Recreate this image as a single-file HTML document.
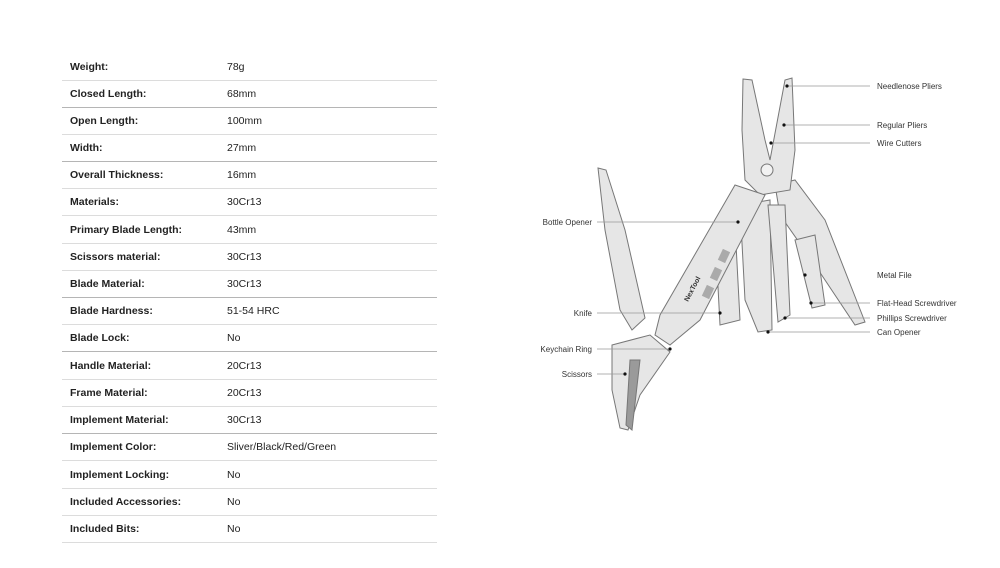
<!DOCTYPE html>
<html><head><meta charset="utf-8"><style>
body{margin:0;width:1000px;height:568px;background:#fff;position:relative;overflow:hidden;font-family:"Liberation Sans",Arial,sans-serif}
.r{position:absolute;left:62px;width:375px;height:27px;border-bottom:1px solid #dcdcdc;font-size:10.5px;color:#222}
.r b{position:absolute;left:8px;top:8px;font-weight:bold}
.r span{position:absolute;left:165px;top:8px}
.d{border-bottom-color:#b5b5b5}
svg{position:absolute;left:0;top:0}
svg text{font-family:"Liberation Sans",Arial,sans-serif;font-size:8px;fill:#333}
</style></head><body>
<div class="r" style="top:53px"><b>Weight:</b><span>78g</span></div>
<div class="r d" style="top:80px"><b>Closed Length:</b><span>68mm</span></div>
<div class="r" style="top:107px"><b>Open Length:</b><span>100mm</span></div>
<div class="r d" style="top:134px"><b>Width:</b><span>27mm</span></div>
<div class="r" style="top:161px"><b>Overall Thickness:</b><span>16mm</span></div>
<div class="r" style="top:188px"><b>Materials:</b><span>30Cr13</span></div>
<div class="r" style="top:216px"><b>Primary Blade Length:</b><span>43mm</span></div>
<div class="r" style="top:243px"><b>Scissors material:</b><span>30Cr13</span></div>
<div class="r d" style="top:270px"><b>Blade Material:</b><span>30Cr13</span></div>
<div class="r" style="top:297px"><b>Blade Hardness:</b><span>51-54 HRC</span></div>
<div class="r d" style="top:324px"><b>Blade Lock:</b><span>No</span></div>
<div class="r" style="top:352px"><b>Handle Material:</b><span>20Cr13</span></div>
<div class="r" style="top:379px"><b>Frame Material:</b><span>20Cr13</span></div>
<div class="r d" style="top:406px"><b>Implement Material:</b><span>30Cr13</span></div>
<div class="r" style="top:433px"><b>Implement Color:</b><span>Sliver/Black/Red/Green</span></div>
<div class="r" style="top:461px"><b>Implement Locking:</b><span>No</span></div>
<div class="r" style="top:488px"><b>Included Accessories:</b><span>No</span></div>
<div class="r" style="top:515px"><b>Included Bits:</b><span>No</span></div>

<svg width="1000" height="568" viewBox="0 0 1000 568">
<g fill="#e6e6e6" stroke="#777" stroke-width="1">
<polygon points="775,185 795,180 825,220 865,322 855,325 815,265 780,215"/>
<polygon points="740,205 770,200 772,330 758,332 745,300"/>
<polygon points="768,205 785,205 790,315 778,322"/>
<polygon points="795,240 815,235 825,305 812,308"/>
<polygon points="715,230 735,225 740,320 720,325"/>
<polygon points="743,79 752,80 765,140 770,160 785,80 792,78 795,150 790,190 760,195 745,180 742,130"/>
<circle cx="767" cy="170" r="6" fill="#f2f2f2"/>
<polygon points="735,185 765,195 700,320 670,345 655,335 660,315"/>
<polygon points="598,168 606,170 625,230 645,318 632,330 620,310 605,230"/>
<polygon points="612,345 650,335 670,352 640,395 628,430 620,428 612,390"/>
<polygon points="630,360 640,360 632,430 626,425" fill="#9a9a9a"/>
</g>
<g fill="#aaa"><rect x="720" y="250" width="8" height="12" transform="rotate(25 724 256)"/><rect x="712" y="268" width="8" height="12" transform="rotate(25 716 274)"/><rect x="704" y="286" width="8" height="12" transform="rotate(25 708 292)"/></g>
<text x="688" y="302" transform="rotate(-62 688 302)" style="font-size:7px;font-weight:bold">NexTool</text>
<g stroke="#999" stroke-width="0.7" fill="none">
<line x1="787" y1="86" x2="870" y2="86"/><line x1="784" y1="125" x2="870" y2="125"/><line x1="771" y1="143" x2="870" y2="143"/>
<line x1="811" y1="303" x2="870" y2="303"/><line x1="785" y1="318" x2="870" y2="318"/><line x1="768" y1="332" x2="870" y2="332"/>
<line x1="597" y1="222" x2="738" y2="222"/><line x1="597" y1="313" x2="720" y2="313"/><line x1="597" y1="349" x2="670" y2="349"/><line x1="597" y1="374" x2="625" y2="374"/>
</g>
<g fill="#111"><circle cx="787" cy="86" r="1.6"/><circle cx="784" cy="125" r="1.6"/><circle cx="771" cy="143" r="1.6"/><circle cx="805" cy="275" r="1.6"/><circle cx="811" cy="303" r="1.6"/><circle cx="785" cy="318" r="1.6"/><circle cx="768" cy="332" r="1.6"/><circle cx="738" cy="222" r="1.6"/><circle cx="720" cy="313" r="1.6"/><circle cx="670" cy="349" r="1.6"/><circle cx="625" cy="374" r="1.6"/></g>
<text x="877" y="89">Needlenose Pliers</text>
<text x="877" y="128">Regular Pliers</text>
<text x="877" y="146">Wire Cutters</text>
<text x="877" y="278">Metal File</text>
<text x="877" y="306">Flat-Head Screwdriver</text>
<text x="877" y="321">Phillips Screwdriver</text>
<text x="877" y="335">Can Opener</text>
<g text-anchor="end"><text x="592" y="225">Bottle Opener</text><text x="592" y="316">Knife</text><text x="592" y="352">Keychain Ring</text><text x="592" y="377">Scissors</text></g>
</svg>
</body></html>
